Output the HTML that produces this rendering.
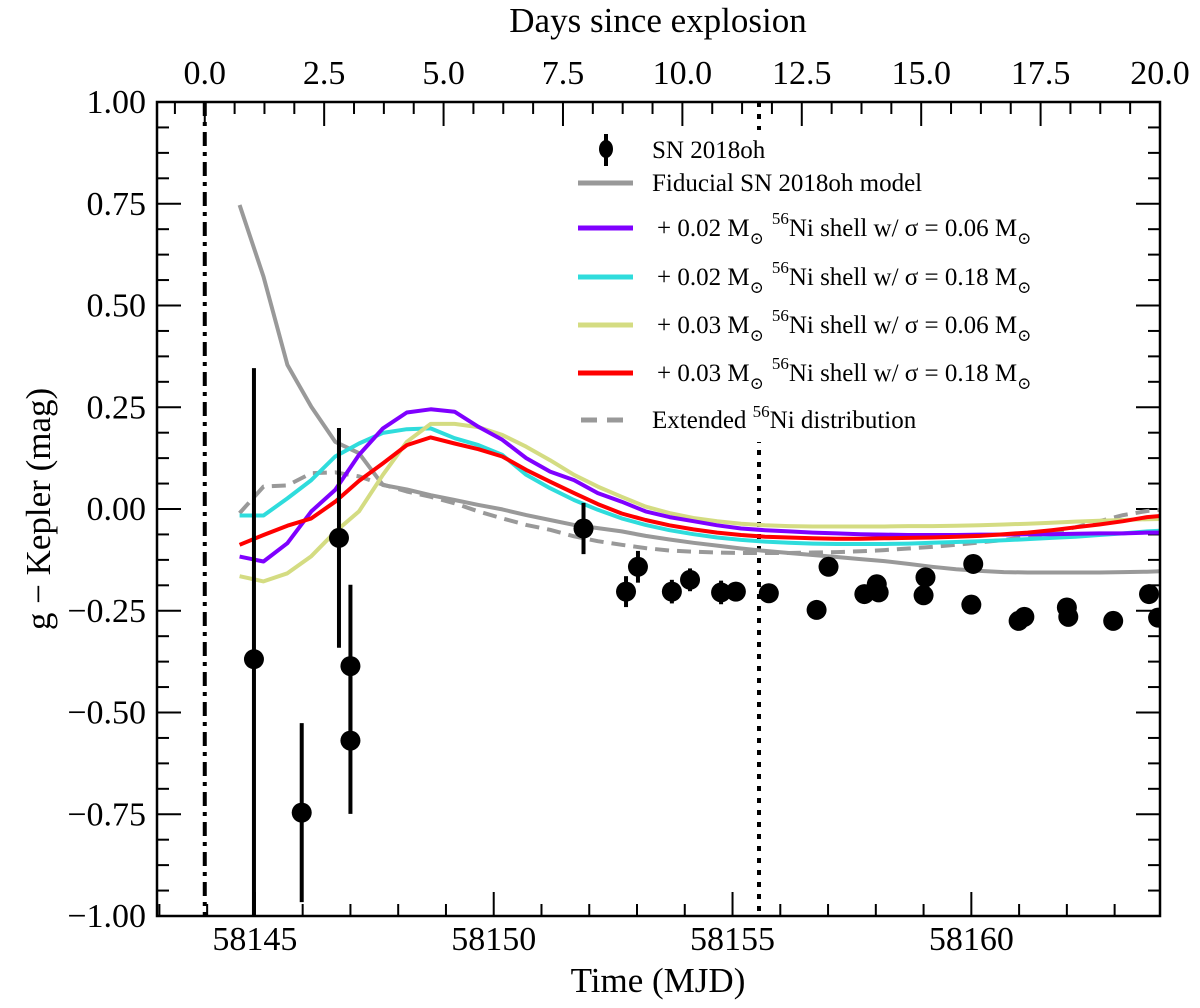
<!DOCTYPE html>
<html><head><meta charset="utf-8"><style>
html,body{margin:0;padding:0;background:#fff;}
svg{display:block;font-family:"Liberation Serif","DejaVu Serif",serif;}
</style></head><body>
<svg id="chart" width="1200" height="1008" viewBox="0 0 1200 1008" xmlns="http://www.w3.org/2000/svg">
<rect x="0" y="0" width="1200" height="1008" fill="#fff"/>
<defs><clipPath id="clip"><rect x="157" y="102" width="1003" height="814"/></clipPath></defs>
<g id="ticks"></g>
<g id="refs" clip-path="url(#clip)"></g>
<g id="legendbg"></g>
<g id="series" clip-path="url(#clip)"></g>
<g id="points" clip-path="url(#clip)"></g>
<rect x="157" y="102" width="1003" height="814" fill="none" stroke="#000" stroke-width="2.5"/>
<g id="labels"></g>
<text x="658" y="32" font-size="35" text-anchor="middle">Days since explosion</text>
<text x="658" y="992" font-size="35" text-anchor="middle">Time (MJD)</text>
<text transform="translate(50,509) rotate(-90)" font-size="35" text-anchor="middle">g − Kepler (mag)</text>
<g id="legend"></g>
</svg>
<script>
// ---- data ----
const explosionMJD = 58143.95;
const modelDays = [0.73,1.23,1.73,2.23,2.73,3.23,3.73,4.23,4.73,5.23,5.73,6.23,6.73,7.23,7.73,8.23,8.73,9.23,9.73,10.23,10.73,11.23,11.73,12.23,12.73,13.23,13.73,14.23,14.73,15.23,15.73,16.23,16.73,17.23,17.73,18.23,18.73,19.23,19.73,20.23];
const fiducial = [0.747,0.571,0.354,0.251,0.165,0.137,0.059,0.048,0.034,0.022,0.010,-0.001,-0.015,-0.027,-0.039,-0.047,-0.055,-0.066,-0.075,-0.083,-0.09,-0.097,-0.103,-0.108,-0.113,-0.118,-0.123,-0.128,-0.135,-0.142,-0.148,-0.152,-0.155,-0.156,-0.156,-0.156,-0.156,-0.155,-0.154,-0.152];
const shell02s06 = [-0.117,-0.129,-0.084,-0.006,0.047,0.133,0.198,0.237,0.245,0.239,0.202,0.170,0.125,0.092,0.071,0.039,0.018,-0.006,-0.02,-0.03,-0.04,-0.048,-0.052,-0.055,-0.058,-0.06,-0.062,-0.063,-0.064,-0.064,-0.064,-0.063,-0.063,-0.062,-0.062,-0.061,-0.06,-0.06,-0.058,-0.058];
const shell02s18 = [-0.016,-0.016,0.026,0.071,0.129,0.161,0.187,0.196,0.198,0.174,0.157,0.133,0.084,0.051,0.022,-0.002,-0.023,-0.039,-0.052,-0.062,-0.07,-0.076,-0.08,-0.083,-0.085,-0.086,-0.086,-0.086,-0.085,-0.083,-0.081,-0.079,-0.077,-0.074,-0.071,-0.068,-0.064,-0.06,-0.055,-0.052];
const shell03s06 = [-0.165,-0.178,-0.158,-0.116,-0.056,-0.006,0.084,0.165,0.209,0.209,0.201,0.182,0.153,0.120,0.084,0.055,0.030,0.006,-0.01,-0.022,-0.03,-0.036,-0.04,-0.042,-0.043,-0.043,-0.043,-0.043,-0.042,-0.042,-0.041,-0.04,-0.038,-0.036,-0.034,-0.031,-0.029,-0.027,-0.025,-0.024];
const shell03s18 = [-0.088,-0.064,-0.041,-0.023,0.018,0.069,0.112,0.157,0.176,0.161,0.147,0.129,0.096,0.067,0.039,0.012,-0.011,-0.027,-0.04,-0.05,-0.058,-0.064,-0.068,-0.07,-0.072,-0.073,-0.073,-0.072,-0.071,-0.07,-0.068,-0.066,-0.062,-0.058,-0.052,-0.045,-0.038,-0.03,-0.02,-0.015];
const extendedNi = [-0.01,0.055,0.058,0.088,0.090,0.080,0.060,0.043,0.030,0.014,-0.006,-0.023,-0.039,-0.051,-0.067,-0.079,-0.088,-0.096,-0.102,-0.105,-0.107,-0.108,-0.108,-0.108,-0.107,-0.106,-0.104,-0.101,-0.097,-0.093,-0.088,-0.082,-0.076,-0.068,-0.058,-0.045,-0.03,-0.015,-0.005,0.0];
const obsMJD = [58144.98,58145.98,58146.76,58147.0,58147.0,58151.88,58152.77,58153.02,58153.73,58154.11,58154.76,58155.07,58155.76,58156.76,58157.01,58157.76,58158.02,58158.06,58159.04,58159.0,58160.04,58160.0,58160.99,58161.11,58162.0,58162.03,58162.97,58163.72,58163.91];
const obsMag = [-0.369,-0.746,-0.071,-0.386,-0.569,-0.048,-0.203,-0.142,-0.203,-0.174,-0.205,-0.203,-0.207,-0.248,-0.142,-0.209,-0.185,-0.205,-0.168,-0.212,-0.135,-0.235,-0.275,-0.265,-0.242,-0.265,-0.275,-0.209,-0.267];
const obsErr = [0.715,0.22,0.27,0.2,0.18,0.063,0.038,0.039,0.029,0.028,0.029,0.01,0.01,0.01,0.01,0.01,0.01,0.01,0.01,0.01,0.01,0.01,0.01,0.01,0.01,0.01,0.01,0.01,0.01];
const yTicks = [1.00,0.75,0.50,0.25,0.00,-0.25,-0.50,-0.75,-1.00];
const yTickLabels = ["1.00","0.75","0.50","0.25","0.00","\u22120.25","\u22120.50","\u22120.75","\u22121.00"];
const mjdTicks = [58145,58150,58155,58160];
const dayTicks = [0,2.5,5,7.5,10,12.5,15,17.5,20];
const dayTickLabels = ["0.0","2.5","5.0","7.5","10.0","12.5","15.0","17.5","20.0"];

// ---- scales ----
const X0=157, X1=1160, Y0=102, Y1=916;
const dayMin=-1.0, dayMax=20.0;
function xDay(d){return X0+(d-dayMin)/(dayMax-dayMin)*(X1-X0);}
function xMJD(m){return xDay(m-explosionMJD);}
function yVal(v){return Y0+(1-v)/2*(Y1-Y0);}
const NS="http://www.w3.org/2000/svg";
function mk(tag,attrs,parent){const e=document.createElementNS(NS,tag);for(const k in attrs)e.setAttribute(k,attrs[k]);parent.appendChild(e);return e;}
const gT=document.getElementById('ticks'), gL=document.getElementById('labels');

for(let v=-1;v<=1.0001;v+=0.0625){
  const major=Math.abs(v*4-Math.round(v*4))<1e-6, len=major?24:12, y=yVal(v);
  const a=mk('line',{x1:X0,x2:X0+len,y1:y,y2:y,stroke:'#000','stroke-width':2},gT);
  
  
  const b=mk('line',{x1:X1-len,x2:X1,y1:y,y2:y,stroke:'#000','stroke-width':2},gT);
  
  
}
yTicks.forEach((v,i)=>{
  const t=mk('text',{x:146,y:yVal(v)+11,'font-size':34,'text-anchor':'end'},gL);
  t.textContent=yTickLabels[i];
  
  
});
for(let m=58143;m<=58163;m++){
  const major=m%5===0, len=major?24:12, x=xMJD(m);
  if(x<X0||x>X1)continue;
  const a=mk('line',{x1:x,x2:x,y1:Y1,y2:Y1-len,stroke:'#000','stroke-width':2},gT);
  
  
}
mjdTicks.forEach(m=>{
  const t=mk('text',{x:xMJD(m),y:950,'font-size':34,'text-anchor':'middle'},gL);
  t.textContent=String(m);
  
  
});
for(let d=-0.625;d<=20.001;d+=0.625){
  const major=Math.abs(d/2.5-Math.round(d/2.5))<1e-6, len=major?24:12, x=xDay(d);
  if(x<X0)continue;
  const a=mk('line',{x1:x,x2:x,y1:Y0,y2:Y0+len,stroke:'#000','stroke-width':2},gT);
  
  
}
dayTicks.forEach((d,i)=>{
  const t=mk('text',{x:xDay(d),y:84,'font-size':34,'text-anchor':'middle'},gL);
  t.textContent=dayTickLabels[i];
  
  
});

const gR=document.getElementById('refs');
const l1=mk('line',{x1:xDay(0),x2:xDay(0),y1:Y0,y2:Y1,stroke:'#000','stroke-width':4,'stroke-dasharray':'14 6 4 6'},gR);


const l2=mk('line',{x1:759,x2:759,y1:Y0,y2:Y1,stroke:'#000','stroke-width':4,'stroke-dasharray':'5 7'},gR);



const lb=mk('rect',{x:568,y:130,width:480,height:312,fill:'#fff'},document.getElementById('legendbg'));



const gS=document.getElementById('series');
const seriesList=[
 {vals:extendedNi,color:'#999999',dash:'14 8',name:'extended-ni-line'},
 {vals:fiducial,color:'#999999',dash:null,name:'fiducial-model-line'},
 {vals:shell02s18,color:'#2fdcdc',dash:null,name:'shell-002-s018-line'},
 {vals:shell03s06,color:'#d4dc82',dash:null,name:'shell-003-s006-line'},
 {vals:shell02s06,color:'#7f00ff',dash:null,name:'shell-002-s006-line'},
 {vals:shell03s18,color:'#ff0000',dash:null,name:'shell-003-s018-line'}
];
seriesList.forEach(s=>{
  const pts=s.vals.map((v,i)=>xDay(modelDays[i]).toFixed(1)+','+yVal(v).toFixed(1)).join(' ');
  const p=mk('polyline',{points:pts,fill:'none',stroke:s.color,'stroke-width':4,'stroke-linejoin':'round'},gS);
  if(s.dash)p.setAttribute('stroke-dasharray',s.dash);
  
  
});

const gP=document.getElementById('points');
obsMJD.forEach((m,i)=>{
  const x=xMJD(m);
  const e=mk('line',{x1:x,x2:x,y1:yVal(obsMag[i]+obsErr[i]),y2:yVal(obsMag[i]-obsErr[i]),stroke:'#000','stroke-width':4},gP);
  
  
  const c=mk('circle',{cx:x,cy:yVal(obsMag[i]),r:10,fill:'#000'},gP);
  
  
});

const gLg=document.getElementById('legend');
const leg=[
 {y:150,type:'pt',label:'SN 2018oh'},
 {y:183,type:'line',color:'#999999',label:'Fiducial SN 2018oh model'},
 {y:228,type:'line',color:'#7f00ff',label:['0.02','0.06']},
 {y:277,type:'line',color:'#2fdcdc',label:['0.02','0.18']},
 {y:325,type:'line',color:'#d4dc82',label:['0.03','0.06']},
 {y:373,type:'line',color:'#ff0000',label:['0.03','0.18']},
 {y:420,type:'dash',color:'#999999',label:'ext'}
];
leg.forEach(L=>{
  const g=mk('g',{},gLg);
  
  
  if(L.type==='pt'){
    mk('line',{x1:606,x2:606,y1:L.y-16,y2:L.y+16,stroke:'#000','stroke-width':4},g);
    mk('ellipse',{cx:606,cy:L.y-1,rx:7,ry:9,fill:'#000'},g);
  } else {
    const ln=mk('line',{x1:578,x2:633,y1:L.y,y2:L.y,stroke:L.color,'stroke-width':5},g);
    if(L.type==='dash')ln.setAttribute('stroke-dasharray','16 10'),ln.setAttribute('x1',581);
  }
  const t=mk('text',{x:652,y:L.y+8,'font-size':25},g);
  if(typeof L.label==='string' && L.label!=='ext'){t.textContent=L.label;}
  else if(L.label==='ext'){
    t.innerHTML='Extended <tspan dy="-11" font-size="17">56</tspan><tspan dy="11">Ni distribution</tspan>';
  } else {
    t.innerHTML='+ '+L.label[0]+' M<tspan dy="8" font-size="17">\u2299</tspan><tspan dy="-20" font-size="17" dx="8">56</tspan><tspan dy="12">Ni shell w/ \u03c3 = '+L.label[1]+' M</tspan><tspan dy="8" font-size="17">\u2299</tspan>';
    t.setAttribute('x',657);
  }
});
</script>
</body></html>
